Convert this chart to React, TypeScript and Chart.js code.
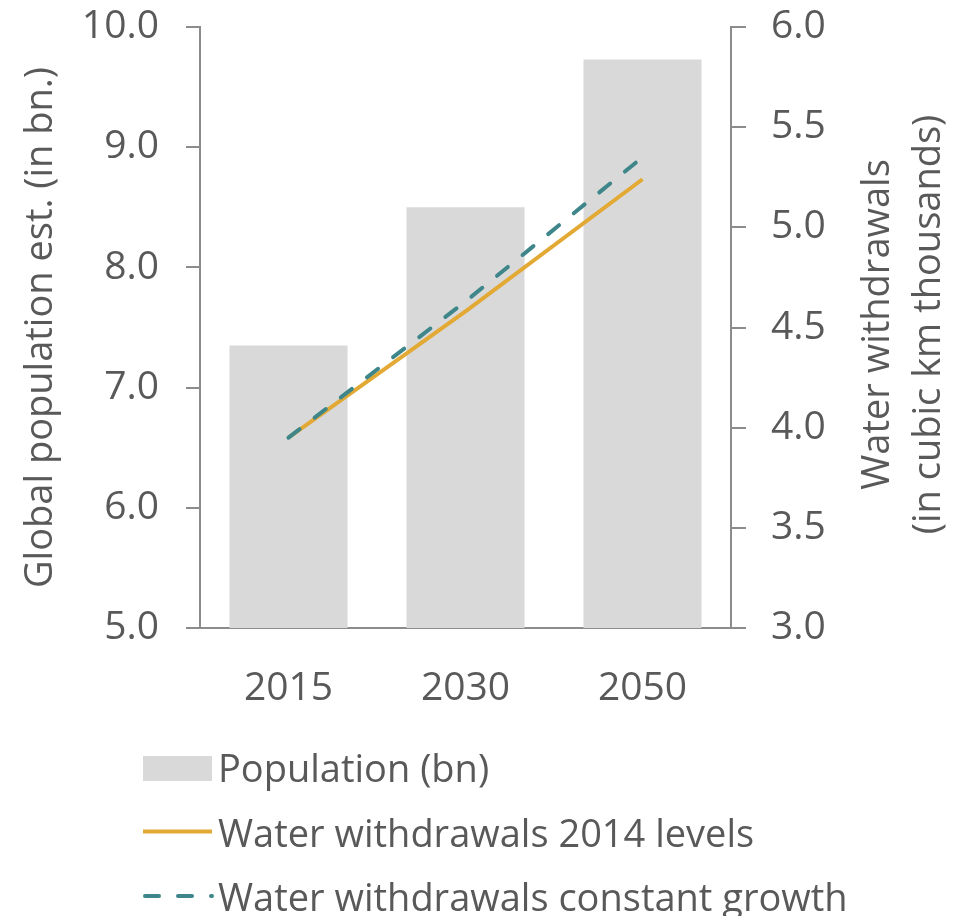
import { useEffect, useRef } from "react";
import { Chart, registerables } from "chart.js";

Chart.register(...registerables);

// Categories and series values
const years = ["2015", "2030", "2050"];
const population = [7.35, 8.5, 9.73];
const withdrawals2014Levels = [3.95, 4.58, 5.24];
const withdrawalsConstantGrowth = [3.95, 4.63, 5.35];

// Axis ranges
const populationAxis = [5, 10, 1];
const withdrawalAxis = [3, 6, 0.5];

// Text
const leftAxisTitle = "Global population est. (in bn.)";
const rightAxisTitle = ["Water withdrawals", "(in cubic km thousands)"];
const seriesLabels = [
  "Population (bn)",
  "Water withdrawals 2014 levels",
  "Water withdrawals constant growth",
];

const FONT = "'Open Sans', 'Noto Sans', sans-serif";
const TEXT = "#595959";
const AXIS = "#8c8c8c";
const BAR = "#d9d9d9";
const GOLD = "#e3a935";
const TEAL = "#3e868a";

// Secondary axis title reads bottom-to-top, like the primary one
const rightTitlePlugin = {
  id: "rightTitle",
  afterDraw(chart: any) {
    const { ctx, chartArea } = chart;
    const cy = (chartArea.top + chartArea.bottom) / 2 - 3;
    const right = chart.scales.y1.right;
    ctx.save();
    ctx.translate(0, cy);
    ctx.rotate(-Math.PI / 2);
    ctx.font = `38px ${FONT}`;
    ctx.fillStyle = TEXT;
    ctx.textAlign = "center";
    ctx.textBaseline = "alphabetic";
    rightAxisTitle.forEach((line, i) => {
      ctx.fillText(line, 0, right - 74 + i * 51);
    });
    ctx.restore();
  },
};

// Stacked legend below the plot
const stackedLegendPlugin = {
  id: "stackedLegend",
  afterDraw(chart: any) {
    const { ctx } = chart;
    const x0 = 143;
    const w = 69;
    const firstBaseline = chart.scales.x.bottom + 54;
    const rowGap = 64.5;
    chart.data.datasets.forEach((ds: any, i: number) => {
      const base = firstBaseline + i * rowGap;
      ctx.save();
      if (ds.type === "bar") {
        ctx.fillStyle = ds.backgroundColor;
        ctx.fillRect(x0, base - 26, w, 25);
      } else {
        const y = base - 15;
        ctx.strokeStyle = ds.borderColor;
        ctx.lineWidth = ds.borderWidth;
        ctx.setLineDash(ds.borderDash || []);
        ctx.lineCap = ds.borderCapStyle || "butt";
        const dashed = (ds.borderDash || []).length > 0;
        ctx.beginPath();
        ctx.moveTo(dashed ? x0 + 2 : x0, y);
        ctx.lineTo(x0 + w, y);
        ctx.stroke();
      }
      ctx.restore();
      ctx.save();
      ctx.font = `38px ${FONT}`;
      ctx.fillStyle = TEXT;
      ctx.textAlign = "left";
      ctx.textBaseline = "alphabetic";
      ctx.fillText(ds.label, x0 + w + 6, base);
      ctx.restore();
    });
  },
};

// Fixed axis widths; tick labels may overhang the plot without extra padding
const fixVertical = (width: number) => (s: any) => {
  s.width = width;
  s.paddingTop = 0;
  s.paddingBottom = 0;
};

export default function App() {
  const canvasRef = useRef<HTMLCanvasElement | null>(null);

  useEffect(() => {
    if (!canvasRef.current) return;
    const tickFont = { family: FONT, size: 39 };
    const chart = new Chart(canvasRef.current, {
      type: "bar",
      data: {
        labels: years,
        datasets: [
          {
            type: "bar",
            label: seriesLabels[0],
            data: population,
            backgroundColor: BAR,
            yAxisID: "y",
            order: 3,
            barPercentage: 0.667,
            categoryPercentage: 1,
          },
          {
            type: "line",
            label: seriesLabels[1],
            data: withdrawals2014Levels,
            borderColor: GOLD,
            backgroundColor: GOLD,
            borderWidth: 4,
            yAxisID: "y1",
            order: 2,
            pointRadius: 0,
            tension: 0,
            fill: false,
          },
          {
            type: "line",
            label: seriesLabels[2],
            data: withdrawalsConstantGrowth,
            borderColor: TEAL,
            backgroundColor: TEAL,
            borderWidth: 4,
            borderDash: [14, 19],
            borderCapStyle: "round",
            yAxisID: "y1",
            order: 1,
            pointRadius: 0,
            tension: 0,
            fill: false,
          },
        ] as any,
      },
      options: {
        animation: false,
        responsive: true,
        maintainAspectRatio: false,
        layout: { padding: { top: 27, bottom: 188, left: 0, right: 0 } },
        plugins: {
          legend: { display: false },
          tooltip: { enabled: false },
        },
        scales: {
          x: {
            type: "category",
            offset: true,
            grid: { display: false },
            border: { display: true, color: AXIS, width: 2 },
            ticks: { color: TEXT, font: tickFont, padding: 29, maxRotation: 0 },
            afterFit: (s: any) => {
              s.height = 100;
            },
          },
          y: {
            position: "left",
            min: populationAxis[0],
            max: populationAxis[1],
            ticks: {
              stepSize: populationAxis[2],
              callback: (v: any) => Number(v).toFixed(1),
              color: TEXT,
              font: tickFont,
              padding: 27,
            },
            grid: { drawOnChartArea: false, tickLength: 14, color: AXIS, lineWidth: 2 },
            border: { color: AXIS, width: 2 },
            title: {
              display: true,
              text: leftAxisTitle,
              color: TEXT,
              font: { family: FONT, size: 38 },
              padding: { top: 18, bottom: 0 },
            },
            afterFit: fixVertical(200),
          },
          y1: {
            position: "right",
            min: withdrawalAxis[0],
            max: withdrawalAxis[1],
            ticks: {
              stepSize: withdrawalAxis[2],
              callback: (v: any) => Number(v).toFixed(1),
              color: TEXT,
              font: tickFont,
              padding: 25,
            },
            grid: { drawOnChartArea: false, tickLength: 15, color: AXIS, lineWidth: 2 },
            border: { color: AXIS, width: 2 },
            afterFit: fixVertical(232),
          },
        },
      } as any,
      plugins: [rightTitlePlugin, stackedLegendPlugin],
    });
    return () => chart.destroy();
  }, []);

  return (
    <div style={{ position: "absolute", left: 0, top: 0, width: 963, height: 916, background: "#fff" }}>
      <canvas ref={canvasRef} />
    </div>
  );
}
